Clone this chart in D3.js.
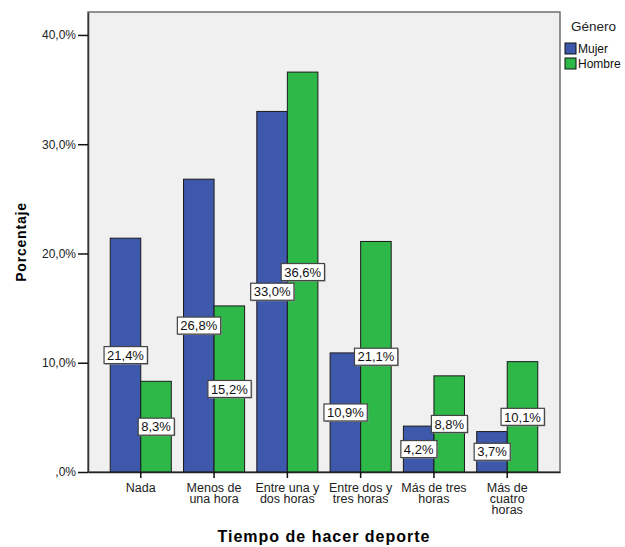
<!DOCTYPE html>
<html>
<head>
<meta charset="utf-8">
<script src="https://cdn.jsdelivr.net/npm/d3@7"></script>
<style>
  body { margin: 0; background: #fff; }
  text { font-family: "Liberation Sans", Arial, sans-serif; }
</style>
</head>
<body>
<svg id="chart" width="625" height="547"></svg>
<script>
// data
var categories = ["Nada", "Menos de una hora", "Entre una y dos horas",
                  "Entre dos y tres horas", "Más de tres horas", "Más de cuatro horas"];
var catLines = [["Nada"], ["Menos de", "una hora"], ["Entre una y", "dos horas"],
                ["Entre dos y", "tres horas"], ["Más de tres", "horas"], ["Más de", "cuatro", "horas"]];
var groups = ["Mujer", "Hombre"];
var mujer = [21.4, 26.8, 33.0, 10.9, 4.2, 3.7];
var hombre = [8.3, 15.2, 36.6, 21.1, 8.8, 10.1];
var yTicks = [0, 10, 20, 30, 40];

var colors = { Mujer: "#3e58ac", Hombre: "#2eb848" };

var svg = d3.select("#chart");
var plotL = 88, plotR = 560, plotT = 12, plotB = 472;

var x0 = d3.scaleBand()
    .domain(categories)
    .range([plotL, plotR])
    .paddingInner(0)
    .paddingOuter(0.22);

var x1 = d3.scaleBand()
    .domain(groups)
    .range([0, x0.bandwidth()])
    .paddingInner(0)
    .paddingOuter(0.2);

var y = d3.scaleLinear()
    .domain([0, 42.1])
    .range([plotB, plotT]);

function fmt(v) {
  var s = d3.format(".1f")(v).replace(".", ",");
  if (s.indexOf("0,") === 0) s = s.slice(1);
  return s + "%";
}

// plot background
svg.append("rect")
    .attr("x", plotL).attr("y", plotT)
    .attr("width", plotR - plotL).attr("height", plotB - plotT)
    .style("fill", "#f0f0f0")
    .style("stroke", "#6e6e6e")
    .style("stroke-width", 1.5);

var rows = categories.map(function(c, i) {
  return { cat: c, values: [{ g: "Mujer", v: mujer[i] }, { g: "Hombre", v: hombre[i] }] };
});

var grp = svg.append("g").selectAll("g")
  .data(rows).enter().append("g")
    .attr("transform", function(d) { return "translate(" + x0(d.cat) + ",0)"; });

grp.selectAll("rect")
  .data(function(d) { return d.values; }).enter().append("rect")
    .attr("x", function(d) { return x1(d.g); })
    .attr("y", function(d) { return y(d.v); })
    .attr("width", x1.bandwidth())
    .attr("height", function(d) { return plotB - y(d.v); })
    .style("fill", function(d) { return colors[d.g]; })
    .style("stroke", "#1a1a1a")
    .style("stroke-width", 1);

// y axis
var yAxis = svg.append("g")
    .attr("transform", "translate(" + plotL + ",0)")
    .call(d3.axisLeft(y).tickValues(yTicks).tickSize(10).tickSizeOuter(0).tickPadding(2)
      .tickFormat(function(d) { return fmt(d); }));
yAxis.select(".domain").style("stroke", "#333").style("stroke-width", 1.5);
yAxis.selectAll(".tick line").style("stroke", "#111").style("stroke-width", 1.5);
yAxis.selectAll(".tick text").style("font-size", "12px").style("fill", "#222")
    .style("font-family", "'Liberation Sans', Arial, sans-serif");

// x axis
var xAxis = svg.append("g")
    .attr("transform", "translate(0," + plotB + ")")
    .call(d3.axisBottom(x0).tickSize(6).tickSizeOuter(0).tickFormat(""));
xAxis.select(".domain").style("stroke", "#222").style("stroke-width", 1.5);
xAxis.selectAll(".tick line").style("stroke", "#111").style("stroke-width", 1.5);

svg.append("g").selectAll("text")
  .data(categories).enter().append("text")
    .attr("x", function(d) { return x0(d) + x0.bandwidth() / 2; })
    .attr("y", plotB + 20)
    .attr("text-anchor", "middle")
    .style("font-size", "12.5px")
    .style("fill", "#222")
    .each(function(d, i) {
      var t = d3.select(this);
      catLines[i].forEach(function(line, j) {
        t.append("tspan")
          .attr("x", x0(d) + x0.bandwidth() / 2)
          .attr("dy", j === 0 ? 0 : 11)
          .text(line);
      });
    });

// value labels
var labels = grp.selectAll("g.lbl")
  .data(function(d) { return d.values; }).enter().append("g")
    .attr("class", "lbl")
    .attr("transform", function(d) {
      return "translate(" + (x1(d.g) + x1.bandwidth() / 2) + "," + ((y(d.v) + plotB) / 2) + ")";
    });

labels.append("text")
    .attr("text-anchor", "middle")
    .attr("dy", "0.36em")
    .style("font-size", "13px")
    .style("fill", "#111")
    .text(function(d) { return fmt(d.v); })
    .each(function() {
      var b = this.getBBox();
      var g = d3.select(this.parentNode);
      // soft shadow like the original
      g.insert("rect", "text")
        .attr("x", b.x - 2).attr("y", -7.5)
        .attr("width", b.width + 6).attr("height", 17)
        .style("fill", "#999");
      g.insert("rect", "text")
        .attr("x", b.x - 3).attr("y", -8.5)
        .attr("width", b.width + 6).attr("height", 17)
        .style("fill", "#fff")
        .style("stroke", "#444")
        .style("stroke-width", 1.2);
    });

// axis titles
svg.append("text")
    .attr("transform", "translate(26," + ((plotT + plotB) / 2) + ") rotate(-90)")
    .attr("text-anchor", "middle")
    .style("font-size", "14px")
    .style("font-weight", "bold")
    .style("letter-spacing", "0.8px")
    .text("Porcentaje");

svg.append("text")
    .attr("x", (plotL + plotR) / 2)
    .attr("y", 541.5)
    .attr("text-anchor", "middle")
    .style("font-size", "16px")
    .style("font-weight", "bold")
    .style("letter-spacing", "1px")
    .text("Tiempo de hacer deporte");

// legend
svg.append("text")
    .attr("x", 571).attr("y", 31)
    .style("font-size", "13.5px")
    .style("fill", "#222")
    .text("Género");

var legend = svg.selectAll(".legend")
  .data(groups).enter().append("g")
    .attr("class", "legend")
    .attr("transform", function(d, i) { return "translate(565," + (43 + i * 15) + ")"; });

legend.append("rect")
    .attr("width", 11).attr("height", 11)
    .style("fill", function(d) { return colors[d]; })
    .style("stroke", "#111")
    .style("stroke-width", 1);

legend.append("text")
    .attr("x", 13).attr("y", 10)
    .style("font-size", "12px")
    .style("fill", "#111")
    .text(function(d) { return d; });
</script>
</body>
</html>
